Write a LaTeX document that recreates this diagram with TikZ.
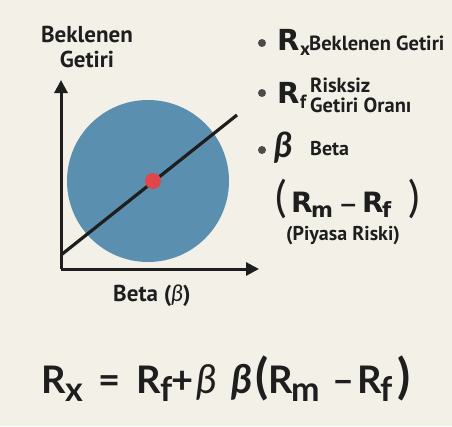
\documentclass[tikz,border=0pt]{standalone}
\usepackage{fontspec}
\usetikzlibrary{arrows.meta}
\setmainfont{PT Sans}
\newfontfamily\lat{Lato}
\newfontfamily\dvs{DejaVu Sans}
\definecolor{bg}{HTML}{F3F1E7}
\definecolor{circ}{HTML}{5B8FB0}
\definecolor{dotred}{HTML}{E0474C}
\definecolor{ink}{HTML}{1E1E1E}
\tikzset{
  axis/.style={draw=ink, line width=3pt, -{Triangle[length=13pt,width=13pt]}},
  trend/.style={draw=ink, line width=3.2pt},
  bullet/.style={circle, fill=ink!80, inner sep=0pt, minimum size=8pt},
  lbl/.style={text=ink, inner sep=0pt, anchor=base west},
}
\newcommand{\sz}[1]{\fontsize{#1}{#1}\selectfont}
\newcommand{\bx}[2]{\makebox[#1pt][l]{#2}}
\newcommand{\lo}[2]{\raisebox{-#1pt}{#2}}
\begin{document}
\begin{tikzpicture}[x=1pt,y=-1pt]
\fill[bg] (0,0) rectangle (452,426);
\useasboundingbox (0,0) rectangle (452,426);
% chart
\fill[circ] (148,181) circle (81);
\coordinate (o) at (61,269);
\coordinate (ytop) at (61,80);
\coordinate (xend) at (259,269);
\coordinate (l1) at (61,255);
\coordinate (l2) at (237,115);
\draw[axis] (o) -- (ytop);
\draw[axis] (o) -- (xend);
\draw[trend] (l1) -- (l2);
\node[circle, fill=dotred, inner sep=0pt, minimum size=16pt] (dot) at (153,181) {};
\node[text=ink, font=\bfseries\sz{23}, inner sep=0pt, anchor=base] (ylab1) at (87,42) {Beklenen};
\node[text=ink, font=\bfseries\sz{23}, inner sep=0pt, anchor=base] (ylab2) at (87,67) {Getiri};
\node[text=ink, font=\bfseries\sz{23}, inner sep=0pt, anchor=base] (xlab) at (152,301) {Beta ({\lat\itshape\mdseries β})};
% legend
\node[bullet] (b1) at (262,43) {};
\node[lbl] (t1) at (277,50) {\bx{23}{\dvs\bfseries\sz{29}R}\lo{5}{\bfseries\sz{19}x}};
\node[lbl, font=\bfseries\sz{20.5}] (t1b) at (309,50) {Beklenen Getiri};
\node[bullet] (b2) at (262,93) {};
\node[lbl] (t2) at (277,103) {\bx{23}{\dvs\bfseries\sz{29}R}\lo{5}{\bfseries\sz{19}f}};
\node[lbl, font=\bfseries\sz{20.5}] (t2b) at (310,92) {Risksiz};
\node[lbl, font=\bfseries\sz{20.5}] (t2c) at (310,112) {Getiri Oranı};
\node[bullet] (b3) at (262,150) {};
\node[lbl] (t3) at (274,157) {{\lat\bfseries\itshape\sz{35}β}};
\node[lbl, font=\bfseries\sz{20}] (t3b) at (310,155) {Beta};
\node[lbl] (pm) at (275,212) {\bx{16}{\lat\sz{43}(}\bx{20}{\dvs\bfseries\sz{28}R}\bx{28}{\lo{5}{\dvs\bfseries\sz{21}m}}\bx{23}{\dvs\bfseries\sz{22}−}\bx{20}{\dvs\bfseries\sz{28}R}\bx{26}{\lo{5}{\dvs\bfseries\sz{21}f}}{\lat\sz{43})}};
\node[text=ink, inner sep=0pt, anchor=base, font=\bfseries\sz{20}] (pr) at (343,240) {(Piyasa Riski)};
% formula
\node[lbl, font=\lat\bfseries] (f) at (41,393) {\bx{24}{\sz{38}R}\bx{33}{\lo{8}{\sz{34}x}}\bx{38}{\sz{38}=}\bx{24}{\sz{38}R}\bx{11}{\lo{8}{\sz{34}f}}\bx{25}{\sz{38}+}\bx{35}{\sz{40}\mdseries\itshape β}\bx{24}{\sz{40}\itshape β}\bx{13}{\sz{48}(}\bx{23}{\sz{38}R}\bx{41}{\lo{8}{\sz{34}m}}\bx{25}{\sz{38}–}\bx{23}{\sz{38}R}\bx{17}{\lo{8}{\sz{34}f}}{\sz{48})}};
\end{tikzpicture}
\end{document}
